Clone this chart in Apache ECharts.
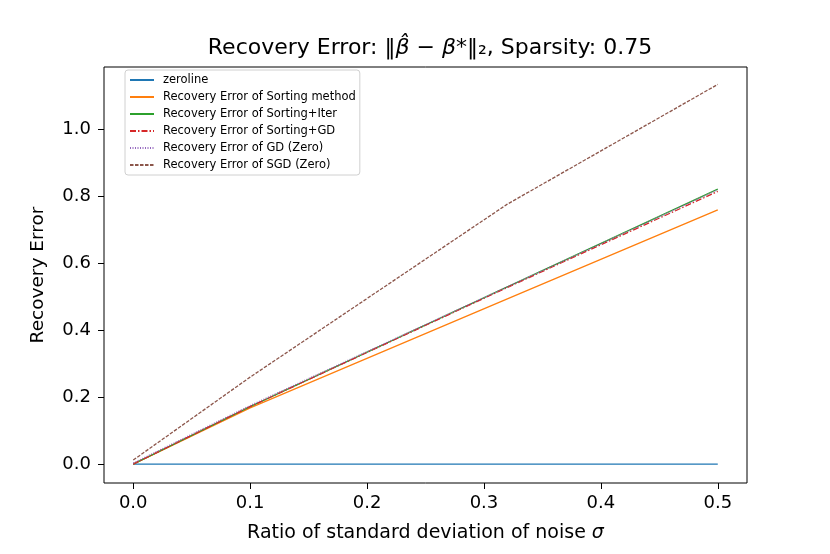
<!DOCTYPE html>
<html>
<head>
<meta charset="utf-8">
<script src="https://cdn.jsdelivr.net/npm/echarts@6/dist/echarts.min.js"></script>
<style>html,body{margin:0;padding:0;background:#fff;}#c{width:830px;height:554px;}</style>
</head>
<body>
<div id="c"></div>
<script>
const sigma = [0, 0.1, 0.32, 0.5];
const zeroline = [0, 0, 0, 0];
const sortingMethod = [0, 0.168, 0.494, 0.76];
const sortingIter = [0, 0.172, 0.530, 0.822];
const sortingGD = [0, 0.172, 0.528, 0.815];
const gdZero = [0.003, 0.175, 0.530, 0.820];
const sgdZero = [0.012, 0.26, 0.777, 1.135];
const xTicks = [0, 0.1, 0.2, 0.3, 0.4, 0.5];
const yTicks = [0, 0.2, 0.4, 0.6, 0.8, 1.0];

const names = ['zeroline','Recovery Error of Sorting method','Recovery Error of Sorting+Iter','Recovery Error of Sorting+GD','Recovery Error of GD (Zero)','Recovery Error of SGD (Zero)'];
const colors = ['#1f77b4','#ff7f0e','#2ca02c','#d62728','#9467bd','#8c564b'];
const dashes = ['solid','solid','solid',[6,2,1.5,2],[1,1.5],[3.5,1.5]];
const datas = [zeroline, sortingMethod, sortingIter, sortingGD, gdZero, sgdZero];

const series = datas.map((d,i)=>({
  name: names[i], type:'line', symbol:'none', animation:false,
  data: sigma.map((x,j)=>[x,d[j]]),
  lineStyle:{color:colors[i], width:1.3, type:dashes[i]},
  itemStyle:{color:colors[i]}
}));

const chart = echarts.init(document.getElementById('c'), null, {renderer:'canvas'});
const ff = 'DejaVu Sans';
chart.setOption({
  backgroundColor:'#fff',
  animation:false,
  title:{
    text:'Recovery Error: ‖{i|β̂} − {i|β}*‖₂, Sparsity: 0.75',
    left:425, top:32, textAlign:'center',
    textStyle:{fontFamily:ff, fontSize:22, fontWeight:'normal', color:'#000',
      rich:{i:{fontFamily:ff, fontSize:22, fontStyle:'italic', color:'#000'}}}
  },
  grid:{left:104, right:83, top:67, bottom:71, show:true, borderColor:'#000', borderWidth:1, backgroundColor:'transparent'},
  legend:{
    orient:'vertical', left:125, top:70, itemWidth:24, itemHeight:10, itemGap:5,
    backgroundColor:'#fff', borderColor:'#d0d0d0', borderWidth:1, borderRadius:3,
    padding:[4,4,4,4],
    itemStyle:{opacity:0},
    textStyle:{fontFamily:ff, fontSize:11.5, color:'#000', padding:[0,0,0,4]},
    data:names
  },
  xAxis:{
    type:'value', min:-0.025, max:0.525,
    name:'Ratio of standard deviation of noise {i|σ}', nameLocation:'middle', nameGap:41,
    nameTextStyle:{fontFamily:ff, fontSize:19, color:'#000', rich:{i:{fontFamily:ff, fontSize:19, fontStyle:'italic', color:'#000'}}},
    axisLine:{show:false, onZero:false},
    splitLine:{show:false},
    axisTick:{show:true, inside:false, length:6, lineStyle:{color:'#000', width:1}, customValues:xTicks},
    axisLabel:{customValues:xTicks, formatter:v=>v.toFixed(1), fontFamily:ff, fontSize:18, color:'#000', margin:11}
  },
  yAxis:{
    type:'value', min:-0.0565, max:1.187,
    name:'Recovery Error', nameLocation:'middle', nameGap:56, nameRotate:90,
    nameTextStyle:{fontFamily:ff, fontSize:18.5, color:'#000'},
    axisLine:{show:false, onZero:false},
    splitLine:{show:false},
    axisTick:{show:true, inside:false, length:6, lineStyle:{color:'#000', width:1}, customValues:yTicks},
    axisLabel:{customValues:yTicks, formatter:v=>v.toFixed(1), fontFamily:ff, fontSize:18, color:'#000', margin:13}
  },
  series: series
});
</script>
</body>
</html>
